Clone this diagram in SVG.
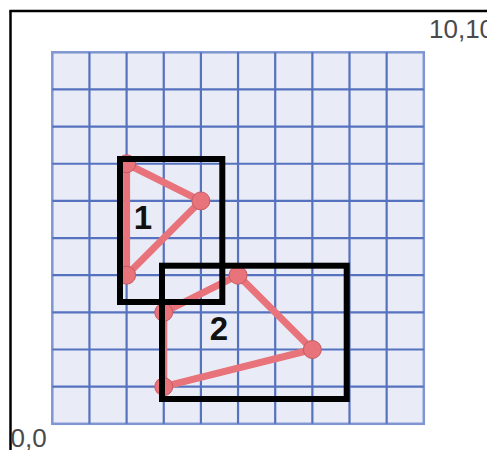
<svg xmlns="http://www.w3.org/2000/svg" width="487" height="450" viewBox="0 0 487 450">
  <style>
    .grid line { stroke: #5672bf; stroke-width: 2.2; }
    .edge { stroke: #e8737a; stroke-width: 7; fill: none; stroke-linecap: round; stroke-linejoin: round; }
    .pt { fill: #e8737a; stroke: #c45a63; stroke-width: 1; }
    .box { fill: none; stroke: #000; stroke-width: 6; }
    .coord { font-family: "Liberation Sans", Arial, sans-serif; font-size: 26px; fill: #4a4a4a; }
    .lbl { font-family: "Liberation Sans", Arial, sans-serif; font-size: 33px; font-weight: bold; fill: #111; text-anchor: middle; }
  </style>
  <rect width="487" height="450" fill="#fff"/>
  <g id="frame" stroke="#000" stroke-width="2.5">
    <line x1="9.3" y1="11" x2="487" y2="11"/>
    <line x1="10.5" y1="11" x2="10.5" y2="450"/>
  </g>
  <g id="grid" class="grid">
    <rect x="52.3" y="52.3" width="371.5" height="371.5" fill="#e9ecf7" stroke="#7f96d0" stroke-width="2.5"/>
    <line x1="89.45" y1="52.3" x2="89.45" y2="423.8"/>
    <line x1="126.6" y1="52.3" x2="126.6" y2="423.8"/>
    <line x1="163.75" y1="52.3" x2="163.75" y2="423.8"/>
    <line x1="200.9" y1="52.3" x2="200.9" y2="423.8"/>
    <line x1="238.05" y1="52.3" x2="238.05" y2="423.8"/>
    <line x1="275.2" y1="52.3" x2="275.2" y2="423.8"/>
    <line x1="312.35" y1="52.3" x2="312.35" y2="423.8"/>
    <line x1="349.5" y1="52.3" x2="349.5" y2="423.8"/>
    <line x1="386.65" y1="52.3" x2="386.65" y2="423.8"/>
    <line x1="52.3" y1="89.45" x2="423.8" y2="89.45"/>
    <line x1="52.3" y1="126.6" x2="423.8" y2="126.6"/>
    <line x1="52.3" y1="163.75" x2="423.8" y2="163.75"/>
    <line x1="52.3" y1="200.9" x2="423.8" y2="200.9"/>
    <line x1="52.3" y1="238.05" x2="423.8" y2="238.05"/>
    <line x1="52.3" y1="275.2" x2="423.8" y2="275.2"/>
    <line x1="52.3" y1="312.35" x2="423.8" y2="312.35"/>
    <line x1="52.3" y1="349.5" x2="423.8" y2="349.5"/>
    <line x1="52.3" y1="386.65" x2="423.8" y2="386.65"/>
  </g>
  <g id="shape1">
    <polygon class="edge" points="126.6,163.75 200.9,200.9 126.6,275.2"/>
    <circle class="pt" cx="126.6" cy="163.75" r="9"/>
    <circle class="pt" cx="200.9" cy="200.9" r="9"/>
    <circle class="pt" cx="126.6" cy="275.2" r="9"/>
  </g>
  <g id="shape2">
    <polygon class="edge" points="163.75,312.35 238.05,275.2 312.35,349.5 163.75,386.65"/>
    <circle class="pt" cx="163.75" cy="312.35" r="9"/>
    <circle class="pt" cx="238.05" cy="275.2" r="9"/>
    <circle class="pt" cx="312.35" cy="349.5" r="9"/>
    <circle class="pt" cx="163.75" cy="386.65" r="9"/>
  </g>
  <g id="box1">
    <rect class="box" x="120" y="159" width="102.3" height="143"/>
    <text class="lbl" x="143" y="229">1</text>
  </g>
  <g id="box2">
    <rect class="box" x="162" y="265.7" width="184.7" height="133.3"/>
    <text class="lbl" x="219" y="340">2</text>
  </g>
  <text class="coord" x="429" y="38.3">10,10</text>
  <text class="coord" x="10.6" y="446.5">0,0</text>
</svg>
